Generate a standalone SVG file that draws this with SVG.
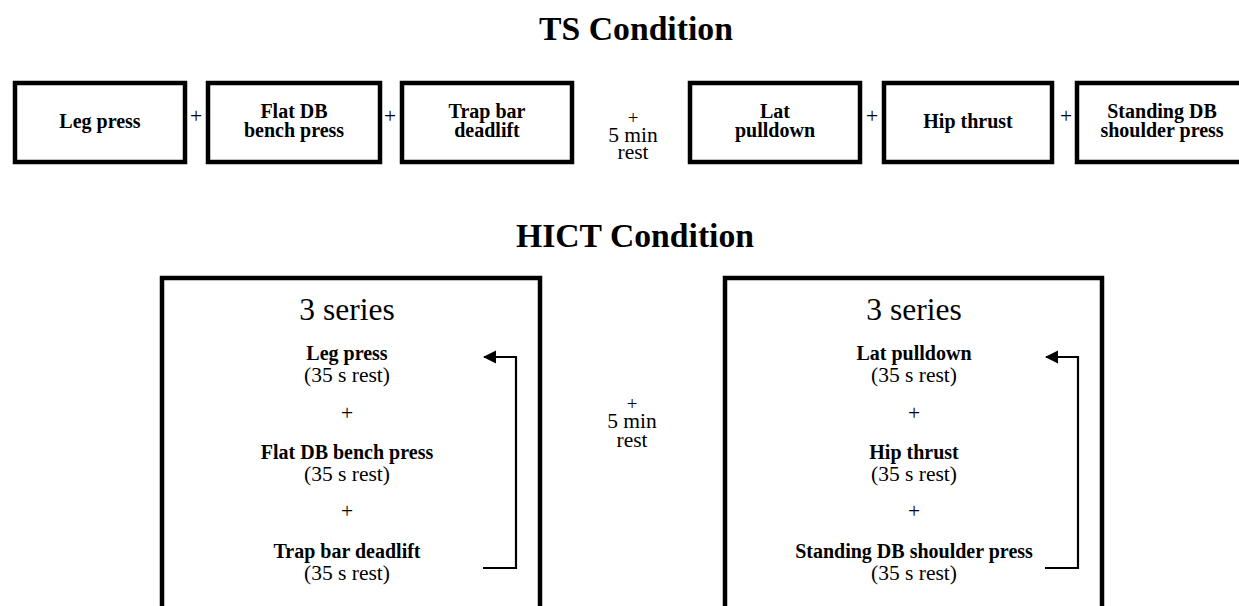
<svg xmlns="http://www.w3.org/2000/svg" width="1239" height="606" viewBox="0 0 1239 606">
<style>
text{fill:#000;text-anchor:middle}
.b{font-weight:bold;font-size:20px}
.r{font-size:21.5px}
.p{font-size:19px}
.t{font-weight:bold;font-size:33.7px}
.s{font-size:31.5px}
.box{fill:#fff;stroke:#000;stroke-width:4.5}
.big{fill:#fff;stroke:#000;stroke-width:4.5}
.ln{fill:none;stroke:#000;stroke-width:2.2}
</style>
<defs>
<marker id="ah" markerWidth="6" markerHeight="6" refX="5.5" refY="3" orient="auto" markerUnits="strokeWidth">
<path d="M0,0 L6,3 L0,6 z" fill="#000"/>
</marker>
</defs>
<rect width="1239" height="606" fill="#fff"/>
<g font-family="'Liberation Serif', 'DejaVu Serif', serif">
<text class="t" x="636" y="40">TS Condition</text>
<text class="t" x="635" y="247">HICT Condition</text>

<g id="ts-leg"><rect class="box" x="15" y="83" width="170" height="79"/><text class="b" x="100" y="128">Leg press</text></g>
<g id="ts-flat"><rect class="box" x="208" y="83" width="172" height="79"/><text class="b" x="294" y="118">Flat DB</text><text class="b" x="294" y="137">bench press</text></g>
<g id="ts-trap"><rect class="box" x="402" y="83" width="170" height="79"/><text class="b" x="487" y="118">Trap bar</text><text class="b" x="487" y="137">deadlift</text></g>
<g id="ts-lat"><rect class="box" x="690" y="83" width="170" height="79"/><text class="b" x="775" y="118">Lat</text><text class="b" x="775" y="137">pulldown</text></g>
<g id="ts-hip"><rect class="box" x="884" y="83" width="168" height="79"/><text class="b" x="968" y="128">Hip thrust</text></g>
<g id="ts-stand"><rect class="box" x="1077" y="83" width="172" height="79"/><text class="b" x="1162" y="118">Standing DB</text><text class="b" x="1162" y="137">shoulder press</text></g>

<g id="ts-plus">
<text class="r" x="196" y="123">+</text>
<text class="r" x="390" y="123">+</text>
<text class="p" x="633" y="124">+</text>
<text class="r" x="633" y="142">5 min</text>
<text class="r" x="633" y="159">rest</text>
<text class="r" x="872" y="123">+</text>
<text class="r" x="1066" y="123">+</text>
</g>

<g id="hict-a">
<rect class="big" x="162" y="278" width="378" height="340"/>
<text class="s" x="347" y="320">3 series</text>
<text class="b" x="347" y="360">Leg press</text>
<text class="r" x="347" y="382">(35 s rest)</text>
<text class="r" x="347" y="420">+</text>
<text class="b" x="347" y="459">Flat DB bench press</text>
<text class="r" x="347" y="481">(35 s rest)</text>
<text class="r" x="347" y="518">+</text>
<text class="b" x="347" y="558">Trap bar deadlift</text>
<text class="r" x="347" y="580">(35 s rest)</text>
</g>

<g id="mid-rest">
<text class="p" x="632" y="410">+</text>
<text class="r" x="632" y="428">5 min</text>
<text class="r" x="632" y="447">rest</text>
</g>

<g id="hict-b">
<rect class="big" x="725" y="278" width="377" height="340"/>
<text class="s" x="914" y="320">3 series</text>
<text class="b" x="914" y="360">Lat pulldown</text>
<text class="r" x="914" y="382">(35 s rest)</text>
<text class="r" x="914" y="420">+</text>
<text class="b" x="914" y="459">Hip thrust</text>
<text class="r" x="914" y="481">(35 s rest)</text>
<text class="r" x="914" y="518">+</text>
<text class="b" x="914" y="558">Standing DB shoulder press</text>
<text class="r" x="914" y="580">(35 s rest)</text>
</g>
</g>

<g id="connectors">
<path class="ln" d="M483,568 H516 V357 H484" marker-end="url(#ah)"/>
<path class="ln" d="M1045,568 H1078 V357 H1046" marker-end="url(#ah)"/>
</g>
</svg>
